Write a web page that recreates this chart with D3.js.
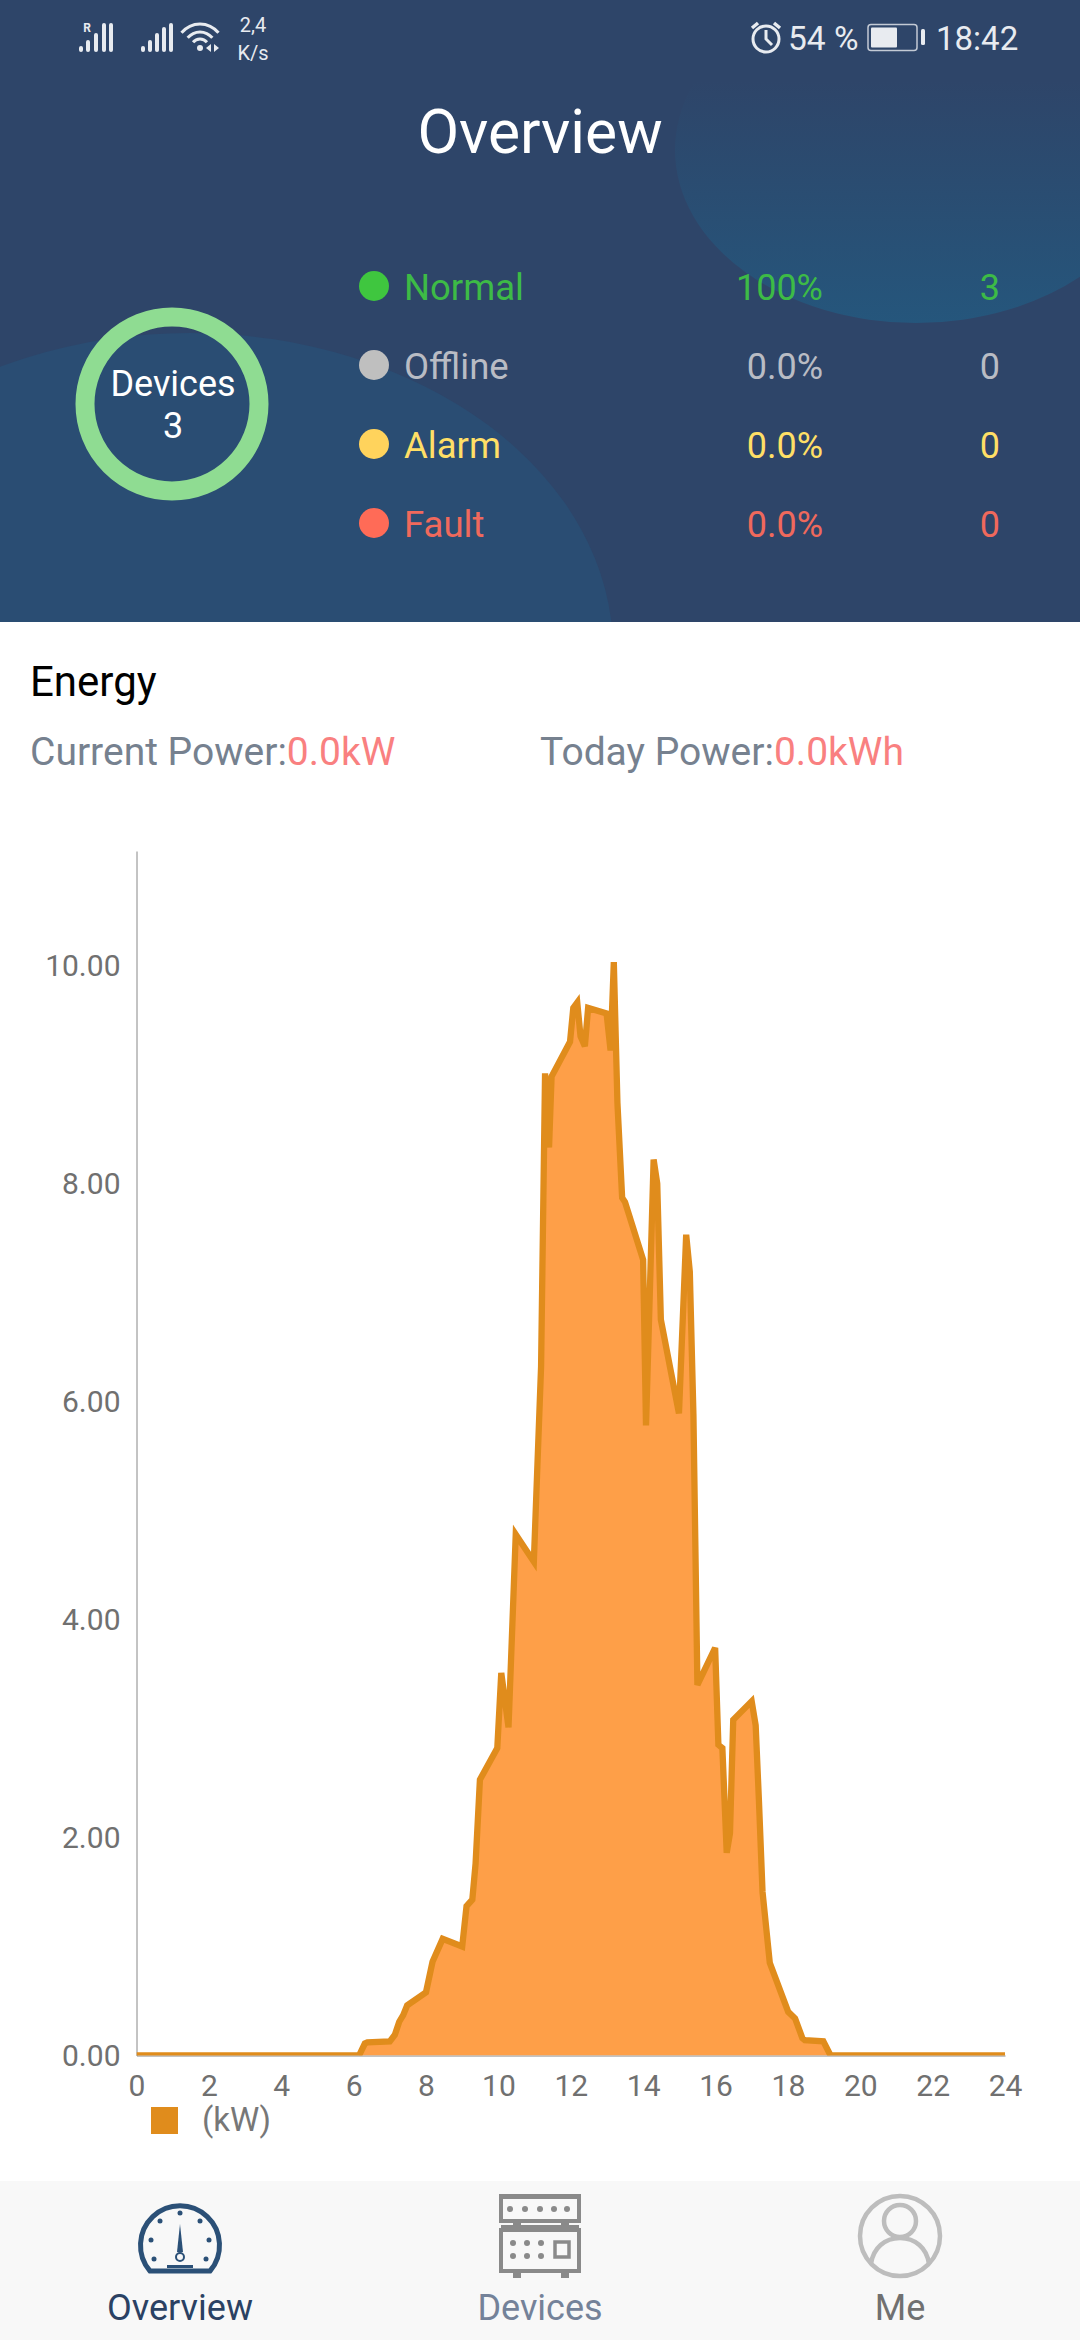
<!DOCTYPE html>
<html>
<head>
<meta charset="utf-8">
<title>Overview</title>
<script src="https://cdnjs.cloudflare.com/ajax/libs/d3/7.8.5/d3.min.js"></script>
<style>
  html, body { margin: 0; padding: 0; background: #fff; }
  svg { display: block; font-family: Roboto, sans-serif; }
</style>
</head>
<body>
<svg id="screen" width="1080" height="2340"></svg>
<script>
// Values
const hours = [0, 6.15, 6.31, 6.38, 7.00, 7.14, 7.26, 7.37, 7.48, 8.00, 8.18, 8.46, 9.00, 9.12, 9.28, 9.37, 9.49, 9.97,
    10.08, 10.28, 10.48, 10.98, 11.18, 11.29, 11.40, 11.47, 11.98, 12.07, 12.18, 12.27, 12.39, 12.48, 12.99, 13.10, 13.19,
    13.29, 13.42, 13.50, 14.00, 14.08, 14.29, 14.39, 14.49, 14.99, 15.19, 15.29, 15.39, 15.50, 15.99, 16.08, 16.19, 16.31,
    16.40, 16.49, 17.00, 17.11, 17.20, 17.30, 17.50, 18.01, 18.20, 18.40, 18.47, 18.98, 19.18, 24];
const power = [0, 0, 0.11, 0.12, 0.13, 0.19, 0.31, 0.37, 0.46, 0.58, 0.86, 1.07, 1.00, 1.37, 1.43, 1.76, 2.53, 2.82,
    3.51, 3.01, 4.78, 4.53, 6.32, 9.01, 8.33, 8.98, 9.30, 9.61, 9.66, 9.35, 9.26, 9.61, 9.56, 9.22, 10.03,
    8.74, 7.87, 7.83, 7.30, 5.78, 8.22, 8.00, 6.75, 5.89, 7.53, 7.19, 5.88, 3.40, 3.74, 2.85, 2.82, 1.86,
    2.04, 3.08, 3.25, 3.03, 2.34, 1.50, 0.85, 0.40, 0.34, 0.16, 0.14, 0.13, 0, 0];
const ticksX = [0, 2, 4, 6, 8, 10, 12, 14, 16, 18, 20, 22, 24];
const ticksY = [0, 2, 4, 6, 8, 10];

const statusNames = ["Normal", "Offline", "Alarm", "Fault"];
const statusPercents = ["100%", "0.0%", "0.0%", "0.0%"];
const statusCounts = ["3", "0", "0", "0"];
const statusDots = ["#3fc63f", "#bfbfbf", "#ffd35c", "#ff6b57"];
const statusTexts = ["#3dbb46", "#b9bcc4", "#ffdf66", "#f0695c"];

const tabNames = ["Overview", "Devices", "Me"];
const tabColors = ["#2a4163", "#748299", "#707070"];

const svg = d3.select("#screen");
const defs = svg.append("defs");

drawHeader();
drawStatusBar();
drawSummary();
drawEnergyText();
drawChart();
drawTabs();

// Dark header with two soft blobs
function drawHeader() {
    const grad = defs.append("linearGradient")
        .attr("id", "blobTop").attr("x1", 0).attr("y1", 0).attr("x2", 0).attr("y2", 1);
    grad.append("stop").attr("offset", "0.3").attr("stop-color", "#2e4569");
    grad.append("stop").attr("offset", "1").attr("stop-color", "#25567c");

    defs.append("clipPath").attr("id", "headerClip")
        .append("rect").attr("width", 1080).attr("height", 622);

    const g = svg.append("g").attr("clip-path", "url(#headerClip)");
    g.append("rect").attr("width", 1080).attr("height", 622).attr("fill", "#2e4569");
    g.append("ellipse").attr("cx", 916).attr("cy", 150).attr("rx", 241).attr("ry", 173)
        .attr("fill", "url(#blobTop)");
    g.append("ellipse").attr("cx", 190).attr("cy", 650).attr("rx", 423).attr("ry", 317)
        .attr("fill", "#2a4d73");

    svg.append("text")
        .attr("x", 540).attr("y", 153)
        .attr("text-anchor", "middle")
        .attr("font-size", 60.5)
        .attr("fill", "#fff")
        .text("Overview");
}

// Phone status bar
function drawStatusBar() {
    const color = "#e8ebf0";
    const g = svg.append("g").attr("fill", color);

    [[81, 46], [88, 40], [96, 33], [104, 23]].forEach(b => signalBar(g, b[0], b[1]));
    signalBar(g, 111, 23);
    [[143, 46], [150, 40], [157, 33], [164, 27], [171, 23]].forEach(b => signalBar(g, b[0], b[1]));

    g.append("text").attr("x", 87).attr("y", 32).attr("text-anchor", "middle")
        .attr("font-size", 12).attr("font-weight", 700).text("R");

    // wifi
    [9, 16, 24].forEach(r => {
        const a = d3.arc().innerRadius(r - 1.5).outerRadius(r + 1.5)
            .startAngle(-Math.PI * 0.28).endAngle(Math.PI * 0.28);
        g.append("path").attr("d", a()).attr("transform", "translate(200, 48)");
    });
    g.append("circle").attr("cx", 200).attr("cy", 48).attr("r", 3);
    g.append("path").attr("d", "M206 48l5 -4v8z M214 44l5 4l-5 4z");

    g.append("text").attr("x", 253).attr("y", 32).attr("text-anchor", "middle")
        .attr("font-size", 20).text("2,4");
    g.append("text").attr("x", 253).attr("y", 60).attr("text-anchor", "middle")
        .attr("font-size", 20).text("K/s");

    // alarm clock
    const clock = svg.append("g").attr("fill", "none").attr("stroke", color).attr("stroke-width", 3);
    clock.append("circle").attr("cx", 766).attr("cy", 39).attr("r", 13);
    clock.append("path").attr("d", "M766 30v9l6 6");
    clock.append("path").attr("d", "M752 28l6 -5 M780 28l-6 -5").attr("stroke-width", 3.5);

    g.append("text").attr("x", 788).attr("y", 50).attr("font-size", 33.5).text("54 %");

    // battery
    svg.append("rect").attr("x", 868).attr("y", 24.5).attr("width", 49).attr("height", 26).attr("rx", 3)
        .attr("fill", "none").attr("stroke", color).attr("stroke-width", 1.5).attr("opacity", 0.8);
    g.append("rect").attr("x", 871).attr("y", 27.5).attr("width", 26).attr("height", 20).attr("rx", 1);
    g.append("rect").attr("x", 921).attr("y", 29).attr("width", 4).attr("height", 16).attr("rx", 1.5);

    g.append("text").attr("x", 936).attr("y", 50).attr("font-size", 33).text("18:42");
}

function signalBar(g, x, top) {
    g.append("rect").attr("x", x - 2).attr("y", top).attr("width", 4).attr("height", 52 - top).attr("rx", 2);
}

// Device ring and status table
function drawSummary() {
    svg.append("circle")
        .attr("cx", 172).attr("cy", 404).attr("r", 87)
        .attr("fill", "none").attr("stroke", "#8fdc92").attr("stroke-width", 19);
    svg.append("text").attr("x", 173).attr("y", 396).attr("text-anchor", "middle")
        .attr("font-size", 36).attr("fill", "#fff").text("Devices");
    svg.append("text").attr("x", 173).attr("y", 438).attr("text-anchor", "middle")
        .attr("font-size", 36).attr("fill", "#fff").text(statusCounts[0]);

    const rowY = d3.scalePoint().domain(statusNames).range([286, 523]);
    const row = svg.selectAll(".status").data(statusNames).enter().append("g")
        .attr("class", "status")
        .attr("transform", d => `translate(0, ${rowY(d)})`);

    row.append("circle").attr("cx", 374).attr("r", 15).attr("fill", (d, i) => statusDots[i]);
    row.append("text").attr("x", 404).attr("y", 14).attr("font-size", 36.5)
        .attr("fill", (d, i) => statusTexts[i]).text(d => d);
    row.append("text").attr("x", 823).attr("y", 14).attr("text-anchor", "end").attr("font-size", 36)
        .attr("fill", (d, i) => statusTexts[i]).text((d, i) => statusPercents[i]);
    row.append("text").attr("x", 1000).attr("y", 14).attr("text-anchor", "end").attr("font-size", 36)
        .attr("fill", (d, i) => statusTexts[i]).text((d, i) => statusCounts[i]);
}

function drawEnergyText() {
    svg.append("text").attr("x", 30).attr("y", 696).attr("font-size", 42).attr("fill", "#000").text("Energy");

    const current = svg.append("text").attr("x", 30).attr("y", 765).attr("font-size", 39).attr("fill", "#76818f");
    current.append("tspan").text("Current Power:");
    current.append("tspan").attr("fill", "#f98080").text("0.0kW");

    const today = svg.append("text").attr("x", 540).attr("y", 765).attr("font-size", 39).attr("fill", "#76818f");
    today.append("tspan").text("Today Power:");
    today.append("tspan").attr("fill", "#f98080").text("0.0kWh");
}

// Area chart of the day's power
function drawChart() {
    const scaleX = d3.scaleLinear().domain([0, 24]).range([136.5, 1005]);
    const scaleY = d3.scaleLinear().domain([0, 11.05]).range([2055.5, 851]);
    const points = hours.map((h, i) => ({ h: h, v: power[i] }));

    const axisX = d3.axisBottom(scaleX).tickValues(ticksX).tickSize(0).tickPadding(19).tickFormat(d3.format("d"));
    const axisY = d3.axisLeft(scaleY).tickValues(ticksY).tickSize(0).tickPadding(16).tickFormat(d3.format(".2f"));

    svg.append("g").attr("transform", `translate(0, ${scaleY(0)})`).call(axisX).call(styleAxis);
    svg.append("g").attr("transform", `translate(${scaleX(0)}, 0)`).call(axisY).call(styleAxis);

    defs.append("clipPath").attr("id", "plotClip").append("rect")
        .attr("x", scaleX(0)).attr("y", scaleY.range()[1])
        .attr("width", scaleX(24) - scaleX(0))
        .attr("height", scaleY(0) - scaleY.range()[1]);

    const plot = svg.append("g").attr("clip-path", "url(#plotClip)");

    const area = d3.area().x(d => scaleX(d.h)).y0(scaleY(0)).y1(d => scaleY(d.v));
    const line = d3.line().x(d => scaleX(d.h)).y(d => scaleY(d.v));

    plot.append("path").datum(points).attr("d", area).attr("fill", "#fe9f48");
    plot.append("path").datum(points).attr("d", line)
        .attr("fill", "none")
        .attr("stroke", "#e08c1c")
        .attr("stroke-width", 6.3);

    // legend
    svg.append("rect").attr("x", 151).attr("y", 2107).attr("width", 27).attr("height", 27).attr("fill", "#e08c1c");
    svg.append("text").attr("x", 202).attr("y", 2131).attr("font-size", 33).attr("fill", "#777").text("(kW)");
}

function styleAxis(g) {
    g.select(".domain").attr("stroke", "#888");
    g.selectAll("text")
        .attr("font-family", "Roboto, sans-serif")
        .attr("font-size", 30)
        .attr("fill", "#707070");
}

// Bottom tab bar
function drawTabs() {
    svg.append("rect").attr("y", 2181).attr("width", 1080).attr("height", 159).attr("fill", "#f8f8f8");

    const tabX = d3.scalePoint().domain(tabNames).range([180, 900]);
    svg.selectAll(".tab").data(tabNames).enter().append("text")
        .attr("class", "tab")
        .attr("x", d => tabX(d))
        .attr("y", 2320)
        .attr("text-anchor", "middle")
        .attr("font-size", 36)
        .attr("fill", (d, i) => tabColors[i])
        .text(d => d);

    drawGauge(tabX("Overview"));
    drawRack(tabX("Devices"));
    drawPerson(tabX("Me"));
}

function drawGauge(cx) {
    const color = "#2b5077";
    const g = svg.append("g").attr("transform", `translate(${cx}, 2244)`);
    g.append("path").attr("d", "M-30 27A39.5 39.5 0 1 1 30 27Z")
        .attr("fill", "none").attr("stroke", color).attr("stroke-width", 5);
    [[0, -31], [-20, -23], [20, -23], [-29, -4], [29, -4], [-26, 15], [26, 15]].forEach(p => {
        g.append("circle").attr("cx", p[0]).attr("cy", p[1]).attr("r", 2.5).attr("fill", color);
    });
    g.append("path").attr("d", "M0 -20L-3 8H3Z").attr("fill", color);
    g.append("circle").attr("cy", 13).attr("r", 4).attr("fill", "none").attr("stroke", color).attr("stroke-width", 2);
    g.append("rect").attr("x", -13).attr("y", 21).attr("width", 26).attr("height", 3).attr("fill", color);
}

function drawRack(cx) {
    const color = "#8a8a8a";
    const g = svg.append("g").attr("transform", `translate(${cx}, 2194)`);
    g.append("rect").attr("x", -39).attr("y", 2).attr("width", 78).attr("height", 25)
        .attr("fill", "none").attr("stroke", color).attr("stroke-width", 4);
    g.append("rect").attr("x", -39).attr("y", 36).attr("width", 78).attr("height", 41)
        .attr("fill", "none").attr("stroke", color).attr("stroke-width", 4);
    g.append("rect").attr("x", -39).attr("y", 0).attr("width", 78).attr("height", 5).attr("fill", color);
    g.append("rect").attr("x", -39).attr("y", 31).attr("width", 78).attr("height", 5).attr("fill", color);
    g.append("rect").attr("x", -27).attr("y", 27).attr("width", 8).attr("height", 7).attr("fill", color);
    g.append("rect").attr("x", 21).attr("y", 27).attr("width", 8).attr("height", 7).attr("fill", color);
    g.append("rect").attr("x", -27).attr("y", 77).attr("width", 8).attr("height", 7).attr("fill", color);
    g.append("rect").attr("x", 21).attr("y", 77).attr("width", 8).attr("height", 7).attr("fill", color);
    [-30, -15, 0, 14, 27].forEach(x => {
        g.append("circle").attr("cx", x).attr("cy", 15).attr("r", 3).attr("fill", color);
    });
    [-27, -13, 1].forEach(x => {
        g.append("circle").attr("cx", x).attr("cy", 49).attr("r", 3).attr("fill", color);
        g.append("circle").attr("cx", x).attr("cy", 62).attr("r", 3).attr("fill", color);
    });
    g.append("rect").attr("x", 15).attr("y", 48).attr("width", 14).attr("height", 15)
        .attr("fill", "none").attr("stroke", color).attr("stroke-width", 3.5);
}

function drawPerson(cx) {
    const color = "#bdbdbd";
    const g = svg.append("g").attr("transform", `translate(${cx}, 2236)`)
        .attr("fill", "none").attr("stroke", color).attr("stroke-width", 4.5);
    g.append("circle").attr("r", 40);
    g.append("circle").attr("cy", -15).attr("r", 16);
    g.append("path").attr("d", "M-29 28C-27 12 -15 2 0 2C15 2 27 12 29 28");
}
</script>
</body>
</html>
